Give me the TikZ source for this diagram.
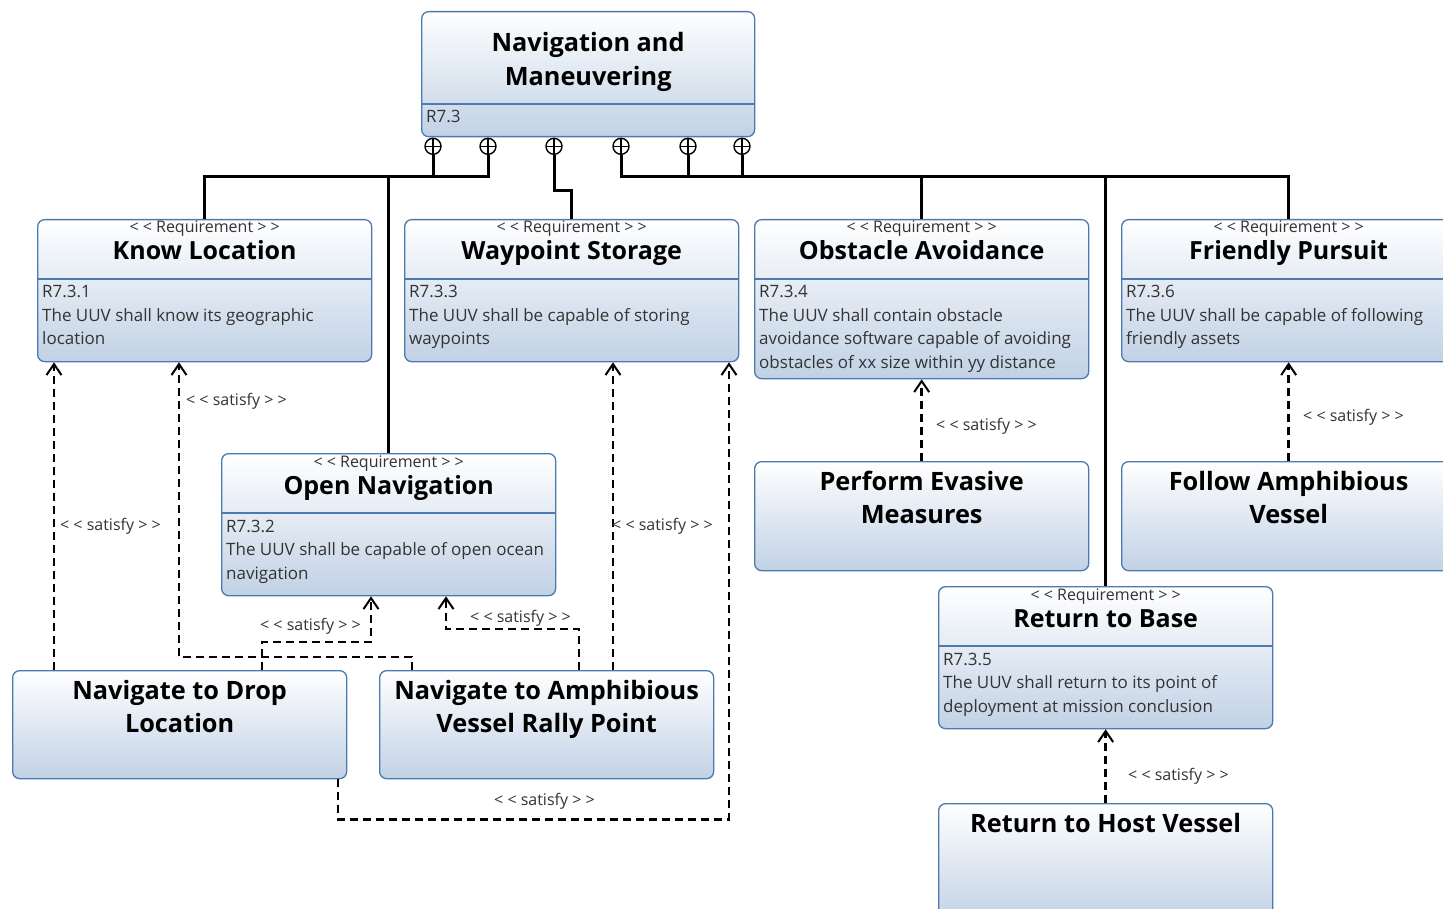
\documentclass[tikz,border=0pt]{standalone}
\usepackage{fontspec}
\setmainfont{Open Sans}
\usetikzlibrary{arrows.meta}

\definecolor{boxedge}{HTML}{4C79AE}
\definecolor{boxlow}{HTML}{C1D1E5}
\definecolor{bodytext}{HTML}{333333}

\tikzset{
  box/.style={draw=boxedge, line width=1.3pt, rounded corners=7pt,
    top color=white, bottom color=boxlow, anchor=north west, inner sep=0pt},
  divider/.style={draw=boxedge, line width=1.3pt},
  comp/.style={circle, draw, fill=white, minimum size=16pt, inner sep=0pt, line width=1.4pt,
    path picture={\draw[line width=1.4pt]
      (path picture bounding box.north) -- (path picture bounding box.south)
      (path picture bounding box.west) -- (path picture bounding box.east);}},
  tree/.style={line width=3pt},
  sat/.style={line width=2.6pt, dash pattern=on 8pt off 5pt,
    -{Straight Barb[length=11pt,width=15pt,line width=2pt]}},
  stereo/.style={font=\fontsize{16}{18}\selectfont, text=bodytext, inner sep=0pt, anchor=base},
  rtitle/.style={font=\fontsize{25}{30}\selectfont\bfseries, inner sep=0pt, anchor=base},
  btitle/.style={font=\fontsize{25.3}{33.5}\selectfont\bfseries, inner sep=0pt, anchor=base},
  body/.style={font=\fontsize{17}{23.5}\selectfont, text=bodytext, inner sep=0pt, anchor=base west},
  satlabel/.style={font=\fontsize{16}{18}\selectfont, text=bodytext, inner sep=0pt, anchor=base west},
}

% multi-line texts whose baseline is the first line
\newcommand{\leftlines}[1]{\begin{tabular}[t]{@{}l@{}}#1\end{tabular}}
\newcommand{\centerlines}[1]{\begin{tabular}[t]{@{}c@{}}#1\end{tabular}}

% requirement: name, x, y, height, title, body
\newcommand{\reqbox}[6]{%
  \node[box, minimum width=334pt, minimum height=#4pt] (#1) at (#2,#3) {};
  \draw[divider] ([yshift=-60pt]#1.north west) -- ([yshift=-60pt]#1.north east);
  \node[stereo] (#1-st) at ([yshift=-14pt]#1.north) {< < Requirement > >};
  \node[rtitle] (#1-ti) at ([yshift=-41pt]#1.north) {#5};
  \node[body] (#1-tx) at ([xshift=5pt,yshift=-79pt]#1.north west) {\leftlines{#6}};
}
% block: name, x, y, height, title
\newcommand{\blockbox}[5]{%
  \node[box, minimum width=334pt, minimum height=#4pt] (#1) at (#2,#3) {};
  \node[btitle] (#1-ti) at ([yshift=-29pt]#1.north) {\centerlines{#5}};
}

\begin{document}
\begin{tikzpicture}[x=1pt,y=-1pt]
\useasboundingbox (0,0) rectangle (1443,909);
\clip (0,0) rectangle (1443,909);

% parent requirement
\node[box, minimum width=333pt, minimum height=125pt] (nav) at (421,11) {};
\draw[divider] ([yshift=-93pt]nav.north west) -- ([yshift=-93pt]nav.north east);
\node[btitle] (nav-ti) at ([yshift=-41pt]nav.north) {\centerlines{Navigation and\\Maneuvering}};
\node[body] (nav-id) at ([xshift=5pt,yshift=-112pt]nav.north west) {R7.3};

% child requirements
\reqbox{know}{37}{219}{142}{Know Location}{R7.3.1\\The UUV shall know its geographic\\location}
\reqbox{way}{404}{219}{142}{Waypoint Storage}{R7.3.3\\The UUV shall be capable of storing\\waypoints}
\reqbox{obst}{754}{219}{159}{Obstacle Avoidance}{R7.3.4\\The UUV shall contain obstacle\\avoidance software capable of avoiding\\obstacles of xx size within yy distance}
\reqbox{friend}{1121}{219}{142}{Friendly Pursuit}{R7.3.6\\The UUV shall be capable of following\\friendly assets}
\reqbox{open}{221}{453}{142}{Open Navigation}{R7.3.2\\The UUV shall be capable of open ocean\\navigation}
\reqbox{rtb}{938}{586}{142}{Return to Base}{R7.3.5\\The UUV shall return to its point of\\deployment at mission conclusion}

% satisfying blocks
\blockbox{evas}{754}{461}{109}{Perform Evasive\\Measures}
\blockbox{follow}{1121}{461}{109}{Follow Amphibious\\Vessel}
\blockbox{navdrop}{12}{670}{108}{Navigate to Drop\\Location}
\blockbox{navamph}{379}{670}{108}{Navigate to Amphibious\\Vessel Rally Point}
\blockbox{rhv}{938}{803}{120}{Return to Host Vessel}

% containment markers
\node[comp] (c1) at ([xshift=12pt,yshift=-9pt]nav.south west) {};
\node[comp] (c2) at ([xshift=67pt,yshift=-9pt]nav.south west) {};
\node[comp] (c3) at ([xshift=133pt,yshift=-9pt]nav.south west) {};
\node[comp] (c4) at ([xshift=200pt,yshift=-9pt]nav.south west) {};
\node[comp] (c5) at ([xshift=267pt,yshift=-9pt]nav.south west) {};
\node[comp] (c6) at ([xshift=321pt,yshift=-9pt]nav.south west) {};

\coordinate (busL) at (0,177);
\coordinate (busM) at (0,191);

% containment tree
\draw[tree] (know.north) -- (know.north |- busL) -- (c2.south |- busL) -- (c2.south);
\draw[tree] (c1.south) -- (c1.south |- busL);
\draw[tree] (open.north) -- (open.north |- busL);
\draw[tree] (c3.south) -- (c3.south |- busM) -- (way.north |- busM) -- (way.north);
\draw[tree] (c4.south) -- (c4.south |- busL) -- (friend.north |- busL) -- (friend.north);
\draw[tree] (c5.south) -- (c5.south |- busL);
\draw[tree] (c6.south) -- (c6.south |- busL);
\draw[tree] (obst.north) -- (obst.north |- busL);
\draw[tree] (rtb.north) -- (rtb.north |- busL);

% satisfy relations
\draw[sat] ([xshift=42pt]navdrop.north west) -- ([xshift=17pt]know.south west);
\draw[sat] ([xshift=33pt]navamph.north west) -- ++(0,-13) -| ([xshift=142pt]know.south west);
\draw[sat] ([xshift=250pt]navdrop.north west) -- ++(0,-28) -| ([xshift=150pt]open.south west);
\draw[sat] ([xshift=200pt]navamph.north west) -- ++(0,-41) -| ([xshift=225pt]open.south west);
\draw[sat] ([xshift=234pt]navamph.north west) -- ([xshift=209pt]way.south west);
\draw[sat] ([xshift=326pt]navdrop.south west) -- ++(0,40) -| ([xshift=325pt]way.south west);
\draw[sat] (evas.north) -- (obst.south);
\draw[sat] (follow.north) -- (friend.south);
\draw[sat] (rhv.north) -- (rtb.south);

\node[satlabel] (s1) at (60,530) {< < satisfy > >};
\node[satlabel] (s2) at (186,405) {< < satisfy > >};
\node[satlabel] (s3) at (260,630) {< < satisfy > >};
\node[satlabel] (s4) at (470,622) {< < satisfy > >};
\node[satlabel] (s5) at (612,530) {< < satisfy > >};
\node[satlabel] (s6) at (494,805) {< < satisfy > >};
\node[satlabel] (s7) at (936,430) {< < satisfy > >};
\node[satlabel] (s8) at (1303,421) {< < satisfy > >};
\node[satlabel] (s9) at (1128,780) {< < satisfy > >};
\end{tikzpicture}
\end{document}
